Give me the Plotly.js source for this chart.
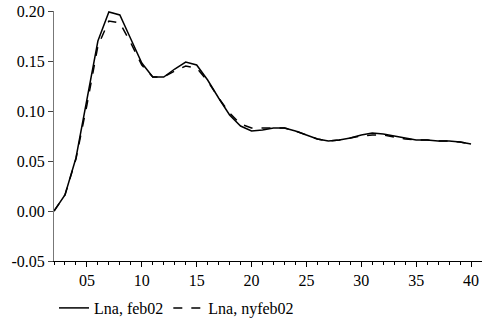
<!DOCTYPE html>
<html>
<head>
<meta charset="utf-8">
<script src="https://cdn.plot.ly/plotly-3.0.1.min.js"></script>
<style>html,body{margin:0;padding:0;background:#fff;}#chart{width:482px;height:325px;}</style>
</head>
<body>
<div id="chart"></div>
<script>
const periods = [2,3,4,5,6,7,8,9,10,11,12,13,14,15,16,17,18,19,20,21,22,23,24,25,26,27,28,29,30,31,32,33,34,35,36,37,38,39,40];
const lnaFeb02 = [0.000,0.016,0.053,0.110,0.170,0.199,0.196,0.172,0.148,0.134,0.134,0.142,0.149,0.146,0.131,0.113,0.096,0.085,0.080,0.081,0.083,0.083,0.080,0.076,0.072,0.070,0.071,0.073,0.076,0.078,0.077,0.075,0.073,0.071,0.071,0.070,0.070,0.069,0.067];
const lnaNyfeb02 = [0.000,0.016,0.052,0.106,0.165,0.190,0.188,0.168,0.146,0.134,0.134,0.140,0.145,0.143,0.130,0.113,0.098,0.087,0.083,0.083,0.083,0.083,0.080,0.076,0.072,0.070,0.071,0.073,0.075,0.076,0.076,0.074,0.072,0.071,0.071,0.070,0.070,0.069,0.067];
const seriesNames = ["Lna, feb02", "Lna, nyfeb02"];
const xTickVals = [5,10,15,20,25,30,35,40];
const xTickText = ["05","10","15","20","25","30","35","40"];
const yTickVals = [-0.05,0.00,0.05,0.10,0.15,0.20];
const yTickText = ["-0.05","0.00","0.05","0.10","0.15","0.20"];

function serifFont() { return {family: "Liberation Serif", size: 16, color: "#000"}; }
const traces = [
  {x: periods, y: lnaFeb02, name: seriesNames[0], type: "scatter", mode: "lines",
   line: {color: "#000", width: 1.5, dash: "solid"}},
  {x: periods, y: lnaNyfeb02, name: seriesNames[1], type: "scatter", mode: "lines",
   line: {color: "#000", width: 1.5, dash: "dash"}}
];
const layout = {
  width: 482, height: 325,
  margin: {l: 54, r: 0, t: 11, b: 53},
  paper_bgcolor: "#fff", plot_bgcolor: "#fff",
  font: serifFont(),
  showlegend: true,
  legend: {orientation: "h", x: 0, xanchor: "left", y: -0.12, yanchor: "top",
           font: serifFont(), bgcolor: "rgba(0,0,0,0)", itemwidth: 30, tracegroupgap: 0},
  xaxis: {range: [2, 41], tickvals: xTickVals, ticktext: xTickText,
          showgrid: false, zeroline: false, showline: true, linecolor: "#000", linewidth: 1,
          ticks: "outside", ticklen: 5, tickcolor: "#000", tickfont: serifFont(),
          minor: {dtick: 1, tick0: 0, ticks: "outside", ticklen: 3, tickcolor: "#000", showgrid: false}},
  yaxis: {range: [-0.05, 0.20], tickvals: yTickVals, ticktext: yTickText,
          showgrid: false, zeroline: false, showline: true, linecolor: "#777", linewidth: 1,
          ticks: "outside", ticklen: 5, tickcolor: "#444", tickfont: serifFont()}
};
Plotly.newPlot("chart", traces, layout, {staticPlot: true, displayModeBar: false});
</script>
</body>
</html>
